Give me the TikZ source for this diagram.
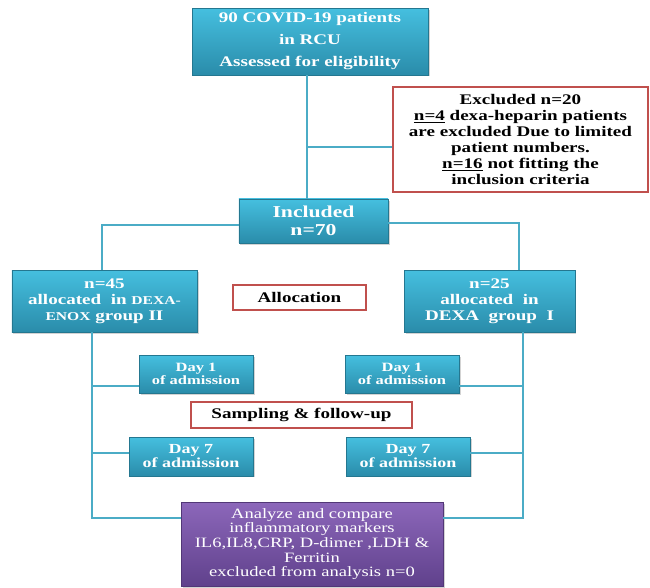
\documentclass[tikz,border=0pt]{standalone}
\usepackage{fontspec}
\setmainfont{Liberation Serif}[FakeStretch=1.3]
\usepackage{tikz}
\usetikzlibrary{shadows}

\definecolor{boxtop}{HTML}{45BFDF}
\definecolor{boxbot}{HTML}{2A8CAA}
\definecolor{linkcol}{HTML}{4BACC6}
\definecolor{redline}{HTML}{C0504D}
\definecolor{purtop}{HTML}{8C67BA}
\definecolor{purbot}{HTML}{60418C}

\begin{document}
\begin{tikzpicture}[
  x=0.75pt, y=-0.75pt,
  bluebox/.style={rectangle, draw=boxbot!85!black, line width=0.4pt, top color=boxtop, bottom color=boxbot, text=white, align=center, inner sep=1pt, drop shadow={opacity=0.35, shadow xshift=1.2pt, shadow yshift=-1.2pt}},
  purplebox/.style={rectangle, draw=purbot!85!black, line width=0.4pt, top color=purtop, bottom color=purbot, text=white, align=center, inner sep=1pt, drop shadow={opacity=0.35, shadow xshift=1.2pt, shadow yshift=-1.2pt}},
  redbox/.style={rectangle, draw=redline, line width=1.3pt, fill=white, align=center, inner sep=1pt},
  daybox/.style={bluebox, minimum width=85.5pt, minimum height=28.5pt},
  link/.style={draw=linkcol, line width=1.8pt},
]
\useasboundingbox (0,0) rectangle (650,588);

\node[bluebox, minimum width=177pt, minimum height=50pt, font=\bfseries\fontsize{11}{16.5}\selectfont] (screen) at (310,41.5) {90 COVID-19 patients\\in RCU\\Assessed for eligibility};
\node[redbox, minimum width=191pt, minimum height=79pt, font=\bfseries\fontsize{11}{12}\selectfont] (excluded) at (520.5,139.5) {Excluded n=20\\\underline{n=4} dexa-heparin patients\\are excluded Due to limited\\patient numbers.\\\underline{n=16} not fitting the\\inclusion criteria};
\node[bluebox, minimum width=112pt, minimum height=33pt, font=\bfseries\fontsize{12.5}{13.5}\selectfont] (included) at (313.5,221) {Included\\n=70};
\node[bluebox, minimum width=139pt, minimum height=46.5pt, font=\bfseries\fontsize{11}{12}\selectfont] (grpII) at (104.5,301) {n=45\\allocated~ in {\fontsize{9}{12}\selectfont DEXA-}\\{\fontsize{9}{12}\selectfont ENOX} group II};
\node[bluebox, minimum width=128pt, minimum height=46.5pt, font=\bfseries\fontsize{11}{12}\selectfont] (grpI) at (489.5,301) {n=25\\allocated~ in\\DEXA~ group~ I};
\node[redbox, minimum width=100pt, minimum height=19pt, font=\bfseries\fontsize{11}{12}\selectfont] (alloc) at (299.5,297.5) {Allocation};

% sampling days
\node[daybox, font=\bfseries\fontsize{9.5}{9.75}\selectfont] (dayIl) at (196,374) {Day 1\\of admission};
\node[daybox, font=\bfseries\fontsize{9.5}{9.75}\selectfont] (dayIr) at (402,374) {Day 1\\of admission};
\node[redbox, minimum width=166pt, minimum height=19.5pt, font=\bfseries\fontsize{11}{12}\selectfont] (sampling) at (301.5,415) {Sampling \& follow-up};
\node[daybox, minimum width=93pt, minimum height=29pt, font=\bfseries\fontsize{10.4}{10.5}\selectfont] (dayVIIl) at (191,456.5) {Day 7\\of admission};
\node[daybox, minimum width=93pt, minimum height=29pt, font=\bfseries\fontsize{10.4}{10.5}\selectfont] (dayVIIr) at (408,456.5) {Day 7\\of admission};

\node[purplebox, minimum width=196.5pt, minimum height=63pt, font=\fontsize{10.7}{11}\selectfont] (analyze) at (312,544) {Analyze and compare\\inflammatory markers\\IL6,IL8,CRP, D-dimer ,LDH \&\\Ferritin\\excluded from analysis n=0};

\coordinate (trunk) at (307,147);
\coordinate (lsplit) at (102,225);
\coordinate (rsplit) at (519,223);
\coordinate (lbus) at (92,518);
\coordinate (rbus) at (523,518);
\coordinate (dI) at (0,386);
\coordinate (dVII) at (0,453);

\draw[link] (trunk |- screen.south) -- (trunk |- included.north);
\draw[link] (trunk) -- (trunk -| excluded.west);
\draw[link] (included.west |- lsplit) -| (lsplit |- grpII.north);
\draw[link] (included.east |- rsplit) -| (rsplit |- grpI.north);
\draw[link] (lbus |- grpII.south) -- (lbus) -- (lbus -| analyze.west);
\draw[link] (rbus |- grpI.south) -- (rbus) -- (rbus -| analyze.east);
\draw[link] (lbus |- dI) -- (dI -| dayIl.west);
\draw[link] (lbus |- dVII) -- (dVII -| dayVIIl.west);
\draw[link] (rbus |- dI) -- (dI -| dayIr.east);
\draw[link] (rbus |- dVII) -- (dVII -| dayVIIr.east);
\end{tikzpicture}
\end{document}
